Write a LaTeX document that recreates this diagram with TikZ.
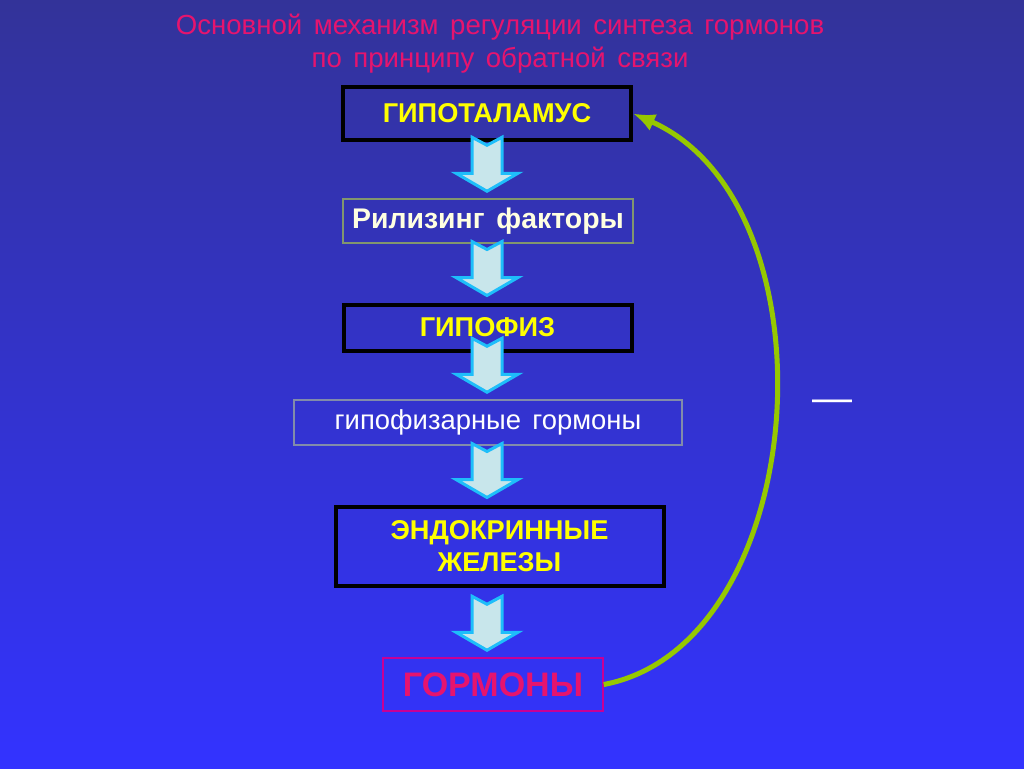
\documentclass[tikz,border=0pt]{standalone}
\usepackage{fontspec}
\setmainfont{Liberation Sans}[WordSpace=1.5]
\usetikzlibrary{arrows.meta,positioning,calc}
\definecolor{SLIDE-TOP}{RGB}{51, 51, 153}
\definecolor{SLIDE-BOTTOM}{RGB}{51, 51, 255}
\definecolor{TITLE-RED}{RGB}{230, 20, 110}
\definecolor{LABEL-YELLOW}{RGB}{255, 255, 0}
\definecolor{LABEL-CREAM}{RGB}{255, 255, 225}
\definecolor{FRAME-OLIVE}{RGB}{130, 150, 110}
\definecolor{FRAME-GREY}{RGB}{130, 140, 170}
\definecolor{FRAME-MAGENTA}{RGB}{200, 0, 150}
\definecolor{ARROW-CYAN}{RGB}{30, 190, 250}
\definecolor{ARROW-FILL}{RGB}{200, 230, 235}
\definecolor{LOOP-GREEN}{RGB}{150, 200, 0}

\begin{document}
\begin{tikzpicture}[x=0.5pt, y=-0.5pt,
  organ/.style={draw=black, line width=2pt, text=LABEL-YELLOW, inner sep=0pt,
    align=center, font=\fontsize{13.6}{16}\selectfont\bfseries},
  agent/.style={draw=#1, line width=0.75pt, inner sep=0pt},
  blockarrow/.style={fill=ARROW-FILL, draw=ARROW-CYAN, line width=1.5pt},
  feedback/.style={draw=LOOP-GREEN, line width=2.5pt, -{Latex[length=11pt,width=9pt]}}]
  % Slide background
  \useasboundingbox (0,0) rectangle (1024,768);
  \shade[top color=SLIDE-TOP, bottom color=SLIDE-BOTTOM] (0,0) rectangle (1024,768);

  % Title
  \node[TITLE-RED, align=center, font=\fontsize{13.8}{16.5}\selectfont] (title) at (500,44)
    {Основной механизм регуляции синтеза гормонов\\по принципу обратной связи};

  % Chain of boxes
  \node[organ, minimum width=144pt, minimum height=26.5pt] (hyp) at (487,113.5) {ГИПОТАЛАМУС};
  \node[agent=FRAME-OLIVE, minimum width=145pt, minimum height=22pt, text=LABEL-CREAM,
    font=\fontsize{14.2}{16}\selectfont\bfseries] (rel) at (488,221) {Рилизинг факторы};
  \node[organ, minimum width=144pt, minimum height=23pt] (pit) at (487.5,327.5) {ГИПОФИЗ};
  \node[agent=FRAME-GREY, minimum width=194pt, minimum height=22.5pt, text=white,
    font=\fontsize{13.7}{16}\selectfont] (pith) at (488,422.5) {гипофизарные гормоны};
  \node[organ, minimum width=164pt, minimum height=39.5pt] (endo) at (499.5,546) {ЭНДОКРИННЫЕ\\ЖЕЛЕЗЫ};
  \node[agent=FRAME-MAGENTA, minimum width=110pt, minimum height=26.5pt, text=TITLE-RED,
    font=\fontsize{17}{20}\selectfont\bfseries] (horm) at (493,684.5) {ГОРМОНЫ};

  % Block arrows down the chain
  \coordinate (axis) at (487,0);
  \foreach \a/\b in {hyp/rel, rel/pit, pit/pith, pith/endo, endo/horm}
    \draw[blockarrow] ($(\b.north -| axis)+(0,-7)$) ++(-15,-54) -- ++(15,8) -- ++(15,-8)
      -- ++(0,36) -- ++(16,0) -- ++(-31,18) -- ++(-31,-18) -- ++(16,0) -- cycle;

  % Negative feedback loop
  \draw[feedback] (horm.east) .. controls (812,645) and (840,205) .. (hyp.east);
  \node[white, anchor=base, font=\fontsize{20}{20}\selectfont] (minus) at (832,411) {—};
\end{tikzpicture}
\end{document}
